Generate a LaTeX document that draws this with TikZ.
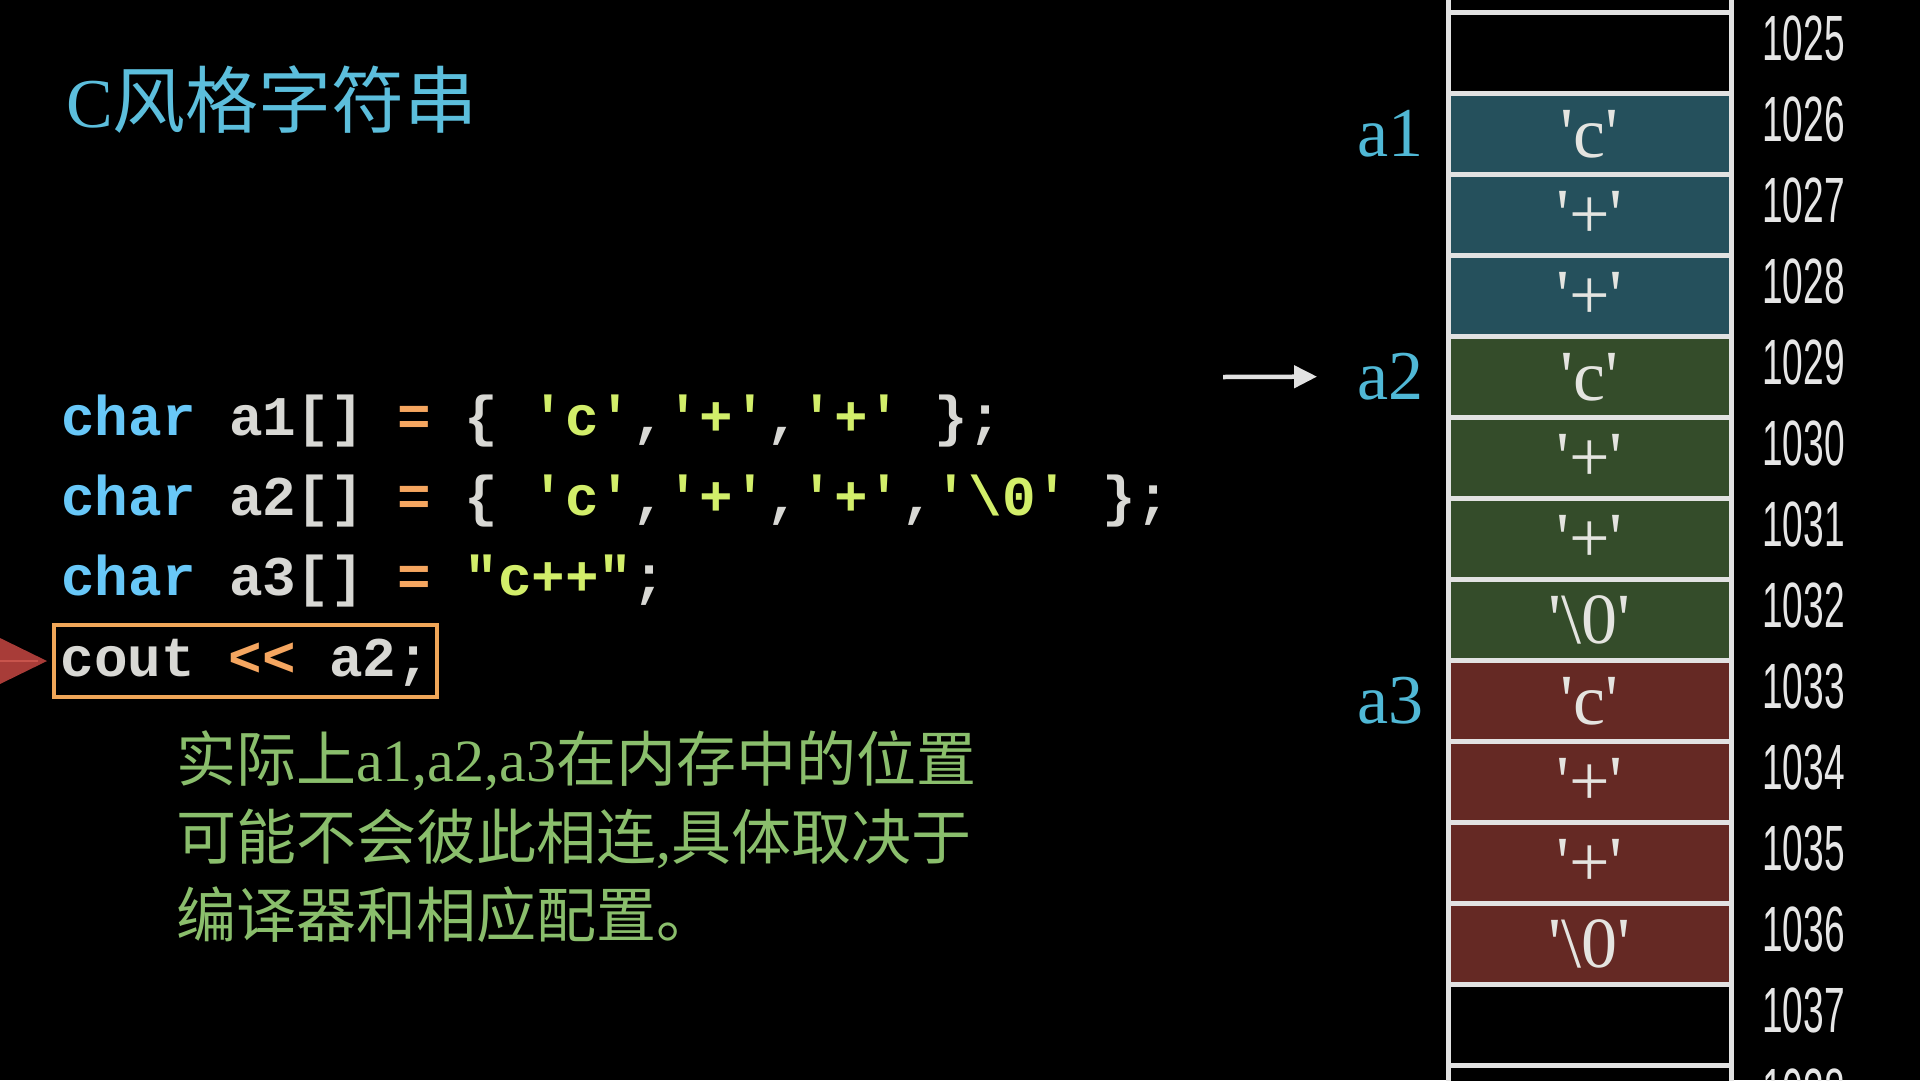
\documentclass[tikz,border=0pt]{standalone}
\usepackage{fontspec}
\usepackage{graphicx}
\usetikzlibrary{arrows.meta,positioning}

\newfontfamily\cjk{Noto Sans CJK SC}
\newfontfamily\cellfont{Liberation Serif}
\newfontfamily\codefont{Liberation Mono}
\newfontfamily\addrfont{Liberation Sans}

\definecolor{titlecyan}{RGB}{92,190,220}
\definecolor{varcyan}{RGB}{80,184,214}
\definecolor{kwblue}{RGB}{104,200,248}
\definecolor{codegray}{RGB}{216,216,212}
\definecolor{oporange}{RGB}{245,166,96}
\definecolor{litgreen}{RGB}{210,238,106}
\definecolor{boxorange}{RGB}{240,166,88}
\definecolor{notegreen}{RGB}{138,190,108}
\definecolor{cellline}{RGB}{226,226,226}
\definecolor{celltext}{RGB}{228,228,224}
\definecolor{addrgray}{RGB}{230,230,230}
\definecolor{cellteal}{RGB}{37,80,92}
\definecolor{cellgreen}{RGB}{52,76,42}
\definecolor{cellred}{RGB}{101,41,36}
\definecolor{arrowgray}{RGB}{226,226,226}
\definecolor{ptrred}{RGB}{168,60,56}
\definecolor{ptrlight}{RGB}{200,84,76}

\newcommand{\ckw}[1]{\textcolor{kwblue}{#1}}
\newcommand{\cop}[1]{\textcolor{oporange}{#1}}
\newcommand{\clit}[1]{\textcolor{litgreen}{#1}}

\begin{document}
\begin{tikzpicture}[x=1pt,y=-1pt,
    cell/.style={rectangle,draw=cellline,line width=5pt,minimum width=283pt,minimum height=81pt,inner sep=0pt,text=celltext,font=\cellfont\fontsize{72}{76}\selectfont,text height=48pt,text depth=0pt},
    addr/.style={anchor=base west,inner sep=0pt,text=addrgray,font=\addrfont\fontsize{64}{70}\selectfont},
    varname/.style={inner sep=0pt,text=varcyan,font=\cellfont\fontsize{70}{80}\selectfont},
    code/.style={anchor=base west,inner sep=0pt,text=codegray,font=\codefont\bfseries\fontsize{56}{66}\selectfont},
    note/.style={anchor=base west,inner sep=0pt,text=notegreen,font=\cjk\fontsize{60}{70}\selectfont},
    arrow/.style={-{Triangle[length=23pt,width=22pt]},line width=4.5pt,draw=arrowgray}
]

% === Background ===
\useasboundingbox (0,0) rectangle (1920,1080);
\fill[black] (0,0) rectangle (1920,1080);
\clip (0,0) rectangle (1920,1080);

% === Title ===
\node[anchor=base west,inner sep=0pt,text=titlecyan] (title) at (66,127) {{\cellfont\fontsize{70}{80}\selectfont C}{\cjk\fontsize{73}{80}\selectfont 风格字符串}};

% === Code ===
\node[code] (line1) at (61,435) {\ckw{char} a1[] \cop{=} \{ \clit{'c'},\clit{'+'},\clit{'+'} \};};
\node[code] (line2) at (61,515) {\ckw{char} a2[] \cop{=} \{ \clit{'c'},\clit{'+'},\clit{'+'},\clit{'\textbackslash 0'} \};};
\node[code] (line3) at (61,595) {\ckw{char} a3[] \cop{=} \clit{"c++"};};
\node[code,anchor=west,draw=boxorange,line width=4pt,inner xsep=7pt,inner ysep=11pt,text height=40pt,text depth=10pt] (cout) at (51.5,661) {cout \cop{<<} a2;};

% current line pointer
\fill[ptrred] (0,638) -- (47,661) -- (0,684) -- cycle;
\draw[ptrlight,line width=2pt] (0,661) -- (38,661);

% === Note ===
\node[note] (note1) at (176,781) {实际上{\cellfont a1,a2,a3}在内存中的位置};
\node[note] (note2) at (176,859) {可能不会彼此相连{\cellfont ,}具体取决于};
\node[note] (note3) at (176,937) {编译器和相应配置。};

% === Memory cells with addresses ===
\foreach \addr/\txt/\fillc [count=\k from -1] in {
    1024//black, 1025//black,
    1026/'c'/cellteal, 1027/'+'/cellteal, 1028/'+'/cellteal,
    1029/'c'/cellgreen, 1030/'+'/cellgreen, 1031/'+'/cellgreen, 1032/'\textbackslash 0'/cellgreen,
    1033/'c'/cellred, 1034/'+'/cellred, 1035/'+'/cellred, 1036/'\textbackslash 0'/cellred,
    1037//black, 1038//black} {
    \node[cell,fill=\fillc] (m\addr) at (1589.5,52.5+81*\k) {\txt};
    \ifnum\addr>1024
        \node[addr] (n\addr) at (1762,60+81*\k) {\scalebox{0.58}[1]{\addr}};
    \fi
}

% === Array names ===
\node[varname,left=22pt of m1026] (va1) {a1};
\node[varname,left=22pt of m1029] (va2) {a2};
\node[varname,left=22pt of m1033] (va3) {a3};

% pointer to a2
\coordinate (ptrtail) at (1223,377);
\draw[arrow,shorten >=40pt] (ptrtail) -- (va2.west);

\end{tikzpicture}
\end{document}
